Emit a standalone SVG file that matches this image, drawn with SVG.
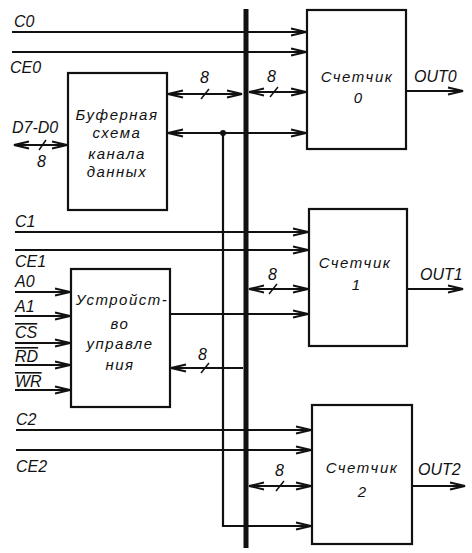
<svg xmlns="http://www.w3.org/2000/svg" width="472" height="553" viewBox="0 0 472 553">
<style>
text{font-family:"Liberation Sans","DejaVu Sans",sans-serif;font-style:italic;font-size:15px;fill:#111}
.box{fill:#fff;stroke:#111;stroke-width:2.2}
.w{stroke:#111;stroke-width:2.2;fill:none}
.ov{text-decoration:overline}
.c{text-anchor:middle}
.lbl{letter-spacing:1.5px}
#labels text{font-size:16px}
</style>
<defs>
<marker id="a" markerUnits="userSpaceOnUse" markerWidth="18" markerHeight="10" refX="16" refY="5" orient="auto-start-reverse">
<path d="M1,1.5 L16,5 L1,8.5" fill="none" stroke="#111" stroke-width="1.8"/>
</marker>
</defs>
<g id="bus"><line x1="246" y1="9" x2="246" y2="548" stroke="#111" stroke-width="5"/></g>
<g id="connectors">
<path class="w" d="M12,32 H306" marker-end="url(#a)"/>
<path class="w" d="M12,52 H306" marker-end="url(#a)"/>
<path class="w" d="M14,145 H67" marker-start="url(#a)" marker-end="url(#a)"/>
<path class="w" d="M168,94 H242" marker-start="url(#a)" marker-end="url(#a)"/>
<path class="w" d="M249,92 H306" marker-start="url(#a)" marker-end="url(#a)"/>
<path class="w" d="M168,133 H306" marker-start="url(#a)" marker-end="url(#a)"/>
<path class="w" d="M223,133 V526 H311" marker-end="url(#a)"/>
<circle cx="223" cy="133" r="3" fill="#111"/>
<path class="w" d="M406,91 H463" marker-end="url(#a)"/>
<path class="w" d="M15,232 H308" marker-end="url(#a)"/>
<path class="w" d="M15,250 H308" marker-end="url(#a)"/>
<path class="w" d="M249,289 H308" marker-start="url(#a)" marker-end="url(#a)"/>
<path class="w" d="M171,314 H308" marker-end="url(#a)"/>
<path class="w" d="M408,289 H463" marker-end="url(#a)"/>
<path class="w" d="M15,292 H70" marker-end="url(#a)"/>
<path class="w" d="M15,316 H70" marker-end="url(#a)"/>
<path class="w" d="M15,343 H70" marker-end="url(#a)"/>
<path class="w" d="M15,365 H70" marker-end="url(#a)"/>
<path class="w" d="M15,390 H70" marker-end="url(#a)"/>
<path class="w" d="M243,368 H171" marker-end="url(#a)"/>
<path class="w" d="M16,430 H311" marker-end="url(#a)"/>
<path class="w" d="M16,450 H311" marker-end="url(#a)"/>
<path class="w" d="M249,486 H311" marker-start="url(#a)" marker-end="url(#a)"/>
<path class="w" d="M413,486 H465" marker-end="url(#a)"/>
<g stroke="#111" stroke-width="1.5">
<line x1="39" y1="150" x2="46" y2="140"/>
<line x1="201" y1="99" x2="209" y2="89"/>
<line x1="270" y1="97" x2="278" y2="87"/>
<line x1="269" y1="294" x2="277" y2="284"/>
<line x1="201" y1="373" x2="209" y2="363"/>
<line x1="276" y1="491" x2="284" y2="481"/>
</g>
</g>
<g id="counter0">
<rect class="box" x="307" y="10" width="99" height="139"/>
<text class="c lbl" x="357" y="82">Счетчик</text>
<text class="c" x="358" y="103">0</text>
</g>
<g id="counter1">
<rect class="box" x="309" y="209" width="98" height="137"/>
<text class="c lbl" x="355" y="268">Счетчик</text>
<text class="c" x="356" y="290">1</text>
</g>
<g id="counter2">
<rect class="box" x="312" y="405" width="100" height="139"/>
<text class="c lbl" x="362" y="473">Счетчик</text>
<text class="c" x="362" y="497">2</text>
</g>
<g id="buffer">
<rect class="box" x="68" y="73" width="99" height="137"/>
<text class="c lbl" x="117" y="120">Буферная</text>
<text class="c lbl" x="117" y="138">схема</text>
<text class="c lbl" x="117" y="159">канала</text>
<text class="c lbl" x="117" y="177">данных</text>
</g>
<g id="control">
<rect class="box" x="71" y="269" width="99" height="138"/>
<text class="c lbl" x="122" y="305">Устройст-</text>
<text class="c lbl" x="120" y="329">во</text>
<text class="c lbl" x="120" y="349">управле</text>
<text class="c lbl" x="120" y="370">ния</text>
</g>
<g id="labels">
<text x="14" y="27">C0</text>
<text x="10" y="73">CE0</text>
<text x="12" y="133">D7-D0</text>
<text x="37" y="167">8</text>
<text x="200" y="83">8</text>
<text x="267" y="82">8</text>
<text x="414" y="82">OUT0</text>
<text x="15" y="227">C1</text>
<text x="15" y="267">CE1</text>
<text x="15" y="287">A0</text>
<text x="15" y="312">A1</text>
<text x="15" y="338" class="ov">CS</text>
<text x="15" y="362" class="ov">RD</text>
<text x="15" y="387" class="ov">WR</text>
<text x="268" y="280">8</text>
<text x="198" y="360">8</text>
<text x="420" y="280">OUT1</text>
<text x="16" y="425">C2</text>
<text x="16" y="472">CE2</text>
<text x="275" y="476">8</text>
<text x="418" y="475">OUT2</text>
</g>
</svg>
